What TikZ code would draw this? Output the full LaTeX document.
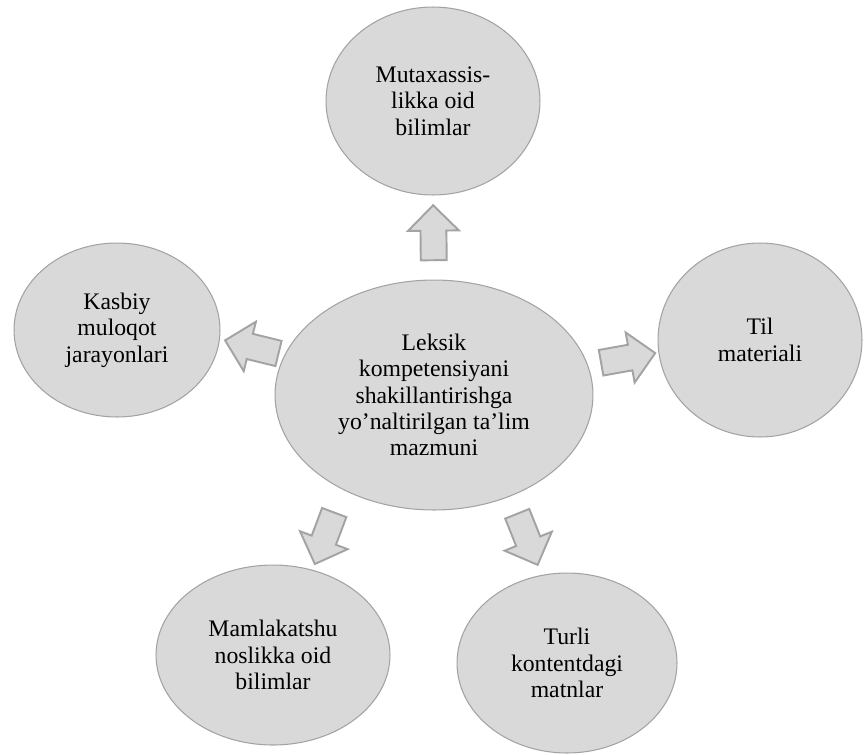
\documentclass[tikz,border=0pt]{standalone}
\usepackage{fontspec}
\setmainfont{Liberation Serif}
\usetikzlibrary{shapes}
\usetikzlibrary{shapes.arrows}
\usetikzlibrary{calc}
\definecolor{doirarang}{HTML}{D9D9D9}
\definecolor{chegara}{HTML}{A3A3A3}
\begin{document}
\begin{tikzpicture}[x=0.02cm,y=-0.02cm]
\tikzstyle{doira}=[
        ellipse,
        draw=chegara,
        fill=doirarang,
        line width=0.6pt,
        inner sep=0pt,
        outer sep=0pt,
        align=center,
        font=\fontsize{13.5pt}{15pt}\selectfont
]
\tikzstyle{strelka}=[
        single arrow,
        draw=chegara,
        fill=doirarang,
        line width=1.1pt,
        inner xsep=0pt,
        inner ysep=0.24cm,
        minimum height=1.1cm,
        single arrow head extend=0.25cm,
        single arrow head indent=0pt,
        sloped,
        allow upside down
]
\useasboundingbox (0,0) rectangle (865,754);
%doiralar
\node[doira,minimum width=6.36cm,minimum height=4.6cm] (markaz) at (434,395) {Leksik\\kompetensiyani\\shakillantirishga\\yo’naltirilgan ta’lim\\mazmuni};
\node[doira,minimum width=4.28cm,minimum height=3.76cm] (mutaxassis) at (433,101) {Mutaxassis-\\likka oid\\bilimlar};
\node[doira,minimum width=4.12cm,minimum height=3.48cm] (kasbiy) at (117,330) {Kasbiy\\muloqot\\jarayonlari};
\node[doira,minimum width=4.08cm,minimum height=3.88cm] (til) at (760,340) {Til\\materiali};
\node[doira,minimum width=4.68cm,minimum height=3.6cm] (mamlakat) at (273,655) {Mamlakatshu\\noslikka oid\\bilimlar};
\node[doira,minimum width=4.4cm,minimum height=3.6cm] (turli) at (567,663) {Turli\\kontentdagi\\matnlar};
%strelkalar
\path (markaz.90) -- (mutaxassis.270) node[strelka,pos=0.48]{};
\path (markaz.165) -- (kasbiy.355) node[strelka,pos=0.41]{};
\path (markaz.11) -- (til.187) node[strelka,pos=0.48]{};
\path (markaz.226) -- (mamlakat.65) node[strelka,pos=0.53]{};
\path (markaz.307) -- (turli.106) node[strelka,pos=0.47]{};
\end{tikzpicture}
\end{document}
